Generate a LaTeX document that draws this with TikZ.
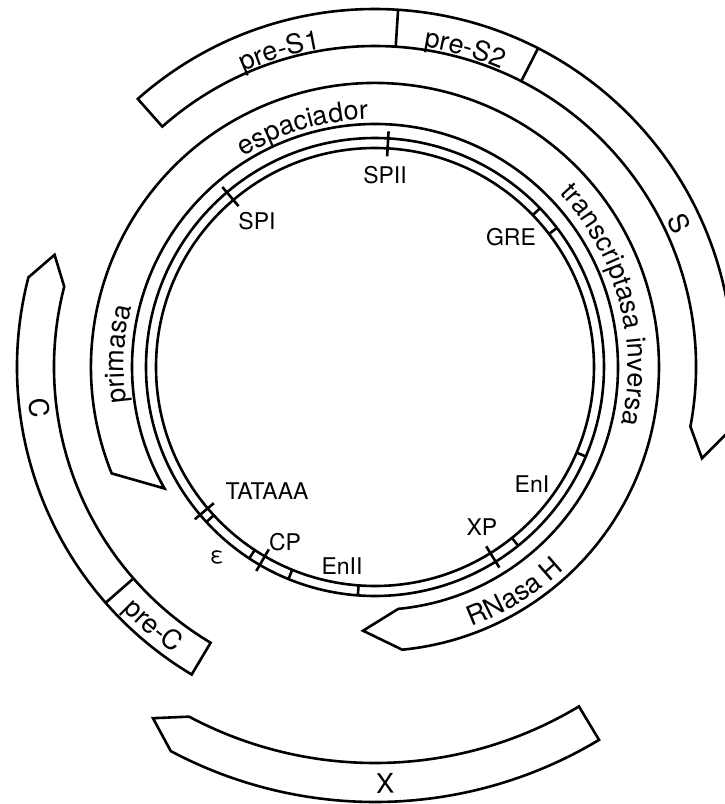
\documentclass[tikz,border=0pt]{standalone}
\usepackage{fontspec}
\setmainfont{TeX Gyre Heros}
\usetikzlibrary{decorations.text}
\newcommand\bandfont{\fontsize{27}{30}\selectfont}
\newcommand\dnafont{\fontsize{23}{26}\selectfont}
% clockwise arc text (tops outward): centre angle, baseline radius, half span, text
\newcommand\cwtext[4]{\path[decorate,decoration={text along path,text align=center,text={|\bandfont|#4}}] (#1+#3:#2) arc[start angle=#1+#3,end angle=#1-#3,radius=#2];}
% counter-clockwise arc text (tops inward)
\newcommand\ccwtext[4]{\path[decorate,decoration={text along path,text align=center,text={|\bandfont|#4}}] (#1-#3:#2) arc[start angle=#1-#3,end angle=#1+#3,radius=#2];}
\begin{document}
\begin{tikzpicture}[x=1pt,y=1pt,
  outline/.style={line width=2.6pt,line join=miter,fill=white},
  tick/.style={line width=2.6pt},
  dnalabel/.style={font=\dnafont,inner sep=0pt},
  bandlabel/.style={font=\bandfont,inner sep=0pt}]
\useasboundingbox (-375,-437) rectangle (350,367);

% S band (pre-S1, pre-S2, S)
\draw[outline] (131.5:358) arc[start angle=131.5,end angle=-10.7,radius=358]
  -- (-15.6:339.5) -- (-10.7:321) arc[start angle=-10.7,end angle=131.5,radius=321] -- cycle;
\draw[tick] (86.3:321) -- (86.3:358);
\draw[tick] (62.9:321) -- (62.9:358);

% C band (pre-C, C)
\draw[outline] (239.2:358) arc[start angle=239.2,end angle=165.5,radius=358]
  -- (160.7:339.5) -- (165.5:321) arc[start angle=165.5,end angle=239.2,radius=321] -- cycle;
\draw[tick] (221.2:321) -- (221.2:358);

% X band
\draw[outline] (301:435) arc[start angle=301,end angle=242,radius=435]
  -- (237.7:415.5) -- (242:396) arc[start angle=242,end angle=301,radius=396] -- cycle;

% Polymerase band
\draw[outline] (202:284) arc[start angle=202,end angle=-84.5,radius=284]
  -- (-92.6:264) -- (-84.5:243) arc[start angle=-84.5,end angle=210,radius=243] -- cycle;

% DNA strands
\draw[tick] (0,0) circle[radius=229];
\draw[tick] (0,0) circle[radius=219];
\foreach \a in {43.9,37.4,-23,-51.3,247.8,265.7,236.7,222.6}
  \draw[tick] (\a:219) -- (\a:229);
\foreach \a in {86.7,130.3,-58.2,239.8,220.2}
  \draw[tick] (\a:211) -- (\a:236);

% DNA labels
\node[dnalabel] (spii) at (10,192) {SPII};
\node[dnalabel] (spi) at (-118,146) {SPI};
\node[dnalabel] (gre) at (136,130) {GRE};
\node[dnalabel] (eni) at (157,-117) {EnI};
\node[dnalabel] (xp) at (107,-160) {XP};
\node[dnalabel] (enii) at (-33,-199) {EnII};
\node[dnalabel] (cp) at (-90,-175) {CP};
\node[dnalabel] (eps) at (-158,-190) {ε};
\node[dnalabel] (tata) at (-108,-124) {TATAAA};

% band labels
\cwtext{106.8}{323}{25}{pre-S1}
\cwtext{74.2}{324}{20}{pre-S2}
\node[bandlabel,rotate=-64.7] (slab) at (25.3:337) {S};
\cwtext{106.8}{248}{40}{espaciador}
\cwtext{177.1}{251}{40}{primasa}
\cwtext{15.1}{253}{40}{transcriptasa inversa}
\ccwtext{-58.2}{277}{30}{RNasa H}
\ccwtext{229.4}{350}{20}{pre-C}
\node[bandlabel,rotate=277] (clab) at (187:338) {C};
\node[bandlabel,rotate=1.4] (xlab) at (271.4:417) {X};
\end{tikzpicture}
\end{document}
